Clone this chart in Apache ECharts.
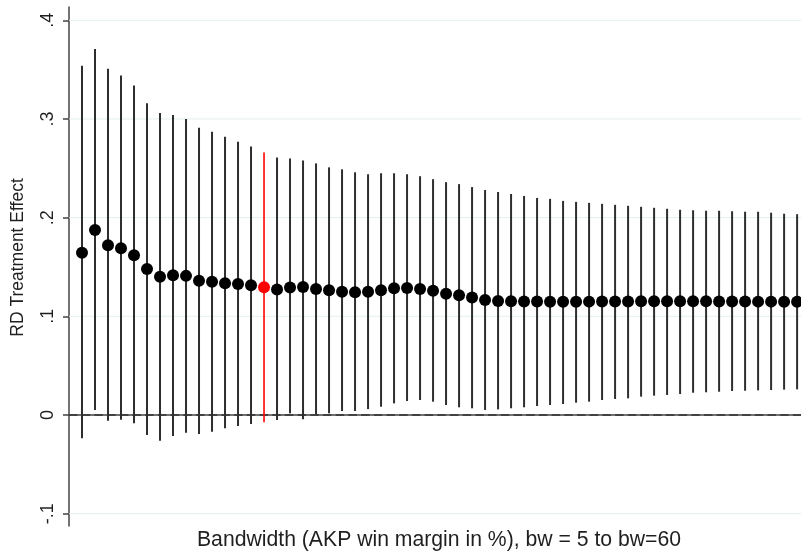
<!DOCTYPE html>
<html>
<head>
<meta charset="utf-8">
<script src="https://cdn.jsdelivr.net/npm/echarts@6/dist/echarts.min.js"></script>
<style>
  html, body { margin: 0; padding: 0; background: #fff; }
  #chart { width: 801px; height: 552px; }
</style>
</head>
<body>
<div id="chart"></div>
<script>
// Bandwidths (AKP win margin, %) at which the RD effect was estimated
const bandwidth = [
  5, 6, 7, 8, 9, 10, 11, 12, 13, 14,
  15, 16, 17, 18, 19, 20, 21, 22, 23, 24,
  25, 26, 27, 28, 29, 30, 31, 32, 33, 34,
  35, 36, 37, 38, 39, 40, 41, 42, 43, 44,
  45, 46, 47, 48, 49, 50, 51, 52, 53, 54,
  55, 56, 57, 58, 59, 60
];

// Point estimates
const estimate = [
  0.1645, 0.1875, 0.172, 0.169, 0.162, 0.148, 0.140, 0.1416, 0.141, 0.136,
  0.135, 0.1335, 0.1328, 0.1314, 0.1294, 0.1272, 0.1292, 0.1297, 0.1277, 0.1264,
  0.125, 0.1243, 0.125, 0.1264, 0.1284, 0.1287, 0.1277, 0.126, 0.123, 0.1213,
  0.119, 0.1166, 0.1155, 0.1152, 0.115, 0.115, 0.1148, 0.1148, 0.1148, 0.1149,
  0.115, 0.115, 0.1151, 0.1152, 0.1152, 0.1153, 0.1153, 0.1152, 0.1152, 0.1151,
  0.115, 0.115, 0.1149, 0.1149, 0.1148, 0.1148
];

// Upper bound of the confidence interval
const ciUpper = [
  0.354, 0.371, 0.351, 0.344, 0.334, 0.316, 0.306, 0.304, 0.300, 0.291,
  0.287, 0.282, 0.277, 0.272, 0.266, 0.261, 0.260, 0.258, 0.255, 0.251,
  0.249, 0.246, 0.244, 0.245, 0.245, 0.244, 0.242, 0.239, 0.236, 0.234,
  0.231, 0.228, 0.226, 0.224, 0.222, 0.220, 0.219, 0.217, 0.216, 0.215,
  0.214, 0.213, 0.212, 0.211, 0.210, 0.209, 0.208, 0.2075, 0.207, 0.207,
  0.2065, 0.206, 0.206, 0.205, 0.204, 0.2035
];

// Lower bound of the confidence interval
const ciLower = [
  -0.0236, 0.005, -0.0058, -0.0047, -0.0084, -0.0203, -0.026, -0.0213, -0.018, -0.0193,
  -0.0169, -0.0135, -0.0111, -0.0091, -0.0074, -0.0051, 0.0017, -0.0044, 0.0007, 0.0017,
  0.004, 0.004, 0.006, 0.0084, 0.0118, 0.0142, 0.0152, 0.0135, 0.0101, 0.0078,
  0.0068, 0.0051, 0.0057, 0.0068, 0.0078, 0.0091, 0.0101, 0.0111, 0.0125, 0.0135,
  0.0152, 0.0162, 0.0169, 0.0186, 0.0196, 0.0203, 0.0213, 0.0226, 0.023, 0.0236,
  0.0243, 0.0246, 0.025, 0.0253, 0.0257, 0.026
];

// Preferred bandwidth, drawn in red
const highlightBw = 19;

// Y-axis ticks and their labels
const yTickValues = [-0.1, 0, 0.1, 0.2, 0.3, 0.4];
const yTickLabels = ['-.1', '0', '.1', '.2', '.3', '.4'];
const gridValues = [-0.1, 0.1, 0.2, 0.3, 0.4];
const refValues = [0];

const xTitle = 'Bandwidth (AKP win margin in %), bw = 5 to bw=60';
const yTitle = 'RD Treatment Effect';

const FONT = '"Liberation Sans", Arial, Helvetica, sans-serif';
const INK = '#1f1f1f';
const AXIS = '#444';
const BAR = '#2e2e2e';
const RED = '#ff0000';

const ciData = bandwidth.map((bw, i) => [bw, ciLower[i], ciUpper[i]]);
const ptData = bandwidth.map((bw, i) => ({
  value: [bw, estimate[i]],
  itemStyle: { color: bw === highlightBw ? RED : '#000' }
}));

// Full-width horizontal line at a given y value
function hLine(style) {
  return function (params, api) {
    const cs = params.coordSys;
    const y = api.coord([0, api.value(1)])[1];
    return {
      type: 'line',
      shape: { x1: cs.x, y1: y, x2: cs.x + cs.width, y2: y },
      style: style
    };
  };
}

const chart = echarts.init(document.getElementById('chart'), null, { renderer: 'canvas' });

chart.setOption({
  animation: false,
  backgroundColor: '#fff',
  grid: { left: 69, right: 0, top: 7, bottom: 26, containLabel: false, outerBoundsMode: 'none' },
  xAxis: {
    type: 'value',
    min: 4,
    max: 60.3,
    axisLine: { show: true, lineStyle: { color: AXIS, width: 1.5 } },
    axisTick: { show: false },
    axisLabel: { show: false },
    splitLine: { show: false },
    name: xTitle,
    nameLocation: 'middle',
    nameGap: 4,
    nameTextStyle: { fontFamily: FONT, fontSize: 21.2, color: INK, verticalAlign: 'top', padding: [0, 0, 0, 8] }
  },
  yAxis: {
    type: 'value',
    min: -0.1125,
    max: 0.4135,
    axisLine: { show: true, lineStyle: { color: AXIS, width: 1.5 } },
    axisTick: { show: true, length: 6, customValues: yTickValues, lineStyle: { color: AXIS, width: 1.5 } },
    axisLabel: {
      customValues: yTickValues,
      rotate: 90,
      margin: 12,
      fontFamily: FONT,
      fontSize: 18,
      color: INK,
      formatter: function (v) {
        let best = 0;
        yTickValues.forEach((t, i) => { if (Math.abs(t - v) < Math.abs(yTickValues[best] - v)) best = i; });
        return yTickLabels[best];
      }
    },
    splitLine: { show: false },
    name: yTitle,
    nameLocation: 'middle',
    nameGap: 42,
    nameTextStyle: { fontFamily: FONT, fontSize: 17.5, color: INK, padding: [0, 0, 0, 18] }
  },
  series: [
    {
      type: 'custom',
      name: 'grid',
      silent: true,
      z: 1,
      data: gridValues.map(v => [bandwidth[0], v]),
      renderItem: hLine({ stroke: '#e5eef0', lineWidth: 1 })
    },
    {
      type: 'custom',
      name: 'zero',
      silent: true,
      z: 2,
      data: refValues.map(v => [bandwidth[0], v]),
      renderItem: hLine({ stroke: '#333', lineWidth: 1.6, lineDash: [8.5, 4.2] })
    },
    {
      type: 'custom',
      name: 'CI',
      silent: true,
      z: 3,
      data: ciData,
      renderItem: function (params, api) {
        const bw = api.value(0);
        const lo = api.coord([bw, api.value(1)]);
        const hi = api.coord([bw, api.value(2)]);
        const red = bw === highlightBw;
        return {
          type: 'line',
          shape: { x1: lo[0], y1: lo[1], x2: hi[0], y2: hi[1] },
          style: { stroke: red ? RED : BAR, lineWidth: red ? 1.6 : 2 }
        };
      }
    },
    {
      type: 'scatter',
      name: 'estimate',
      z: 4,
      symbol: 'circle',
      symbolSize: 12,
      itemStyle: { opacity: 1 },
      data: ptData
    }
  ]
});
</script>
</body>
</html>
